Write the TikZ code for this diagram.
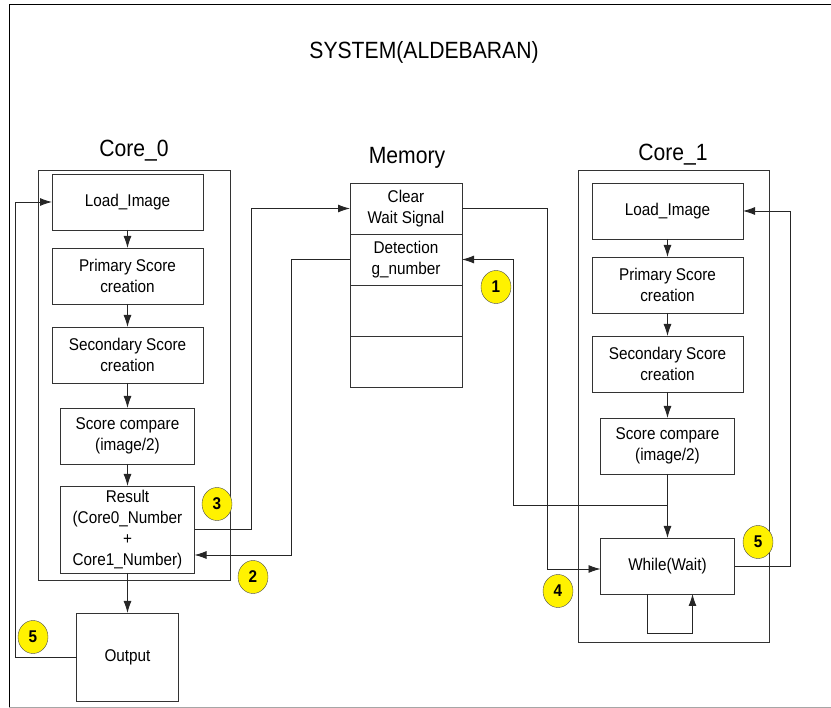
\documentclass[tikz,border=0pt]{standalone}
\usepackage{fontspec}
\setmainfont{Liberation Sans}[FakeStretch=0.9]
\usepackage{tikz}
\usetikzlibrary{shapes.geometric, arrows.meta, positioning, calc}

\begin{document}
\begin{tikzpicture}[
  x=1pt, y=-1pt,
  box/.style={draw=black!80,line width=0.9pt,outer sep=0pt,minimum width=151pt,minimum height=56pt,
              inner sep=2pt,align=center,font=\fontsize{17}{21}\selectfont},
  cmp/.style={box,minimum width=134pt},
  cell/.style={box,minimum width=112pt,minimum height=51pt},
  core/.style={draw=black!80,line width=0.9pt,outer sep=0pt},
  head/.style={font=\fontsize{23.5}{26}\selectfont},
  tag/.style={ellipse,draw=black!70,fill=yellow,minimum width=30pt,minimum height=33pt,
              inner sep=0pt,font=\fontsize{17}{17}\selectfont\bfseries},
  flow/.style={line width=0.9pt,draw=black!85,-{Latex[length=12pt,width=8pt]}},
]
\useasboundingbox (0,0) rectangle (831,708);

% frame and title
\draw[line width=1pt] (9,707) -- (9,5) -- (831,5);
\draw[black!35,line width=1pt] (9,707) -- (831,707);
\node[head] (title) at (424,52) {SYSTEM(ALDEBARAN)};

% Core_0
\node[core,minimum width=192pt,minimum height=410pt] (core0) at (134,375) {};
\node[head] (core0lab) at (134,151) {Core\_0};
\node[box] (ld0) at (127.5,202) {Load\_Image};
\node[box, below=18pt of ld0] (ps0) {Primary Score\\creation};
\node[box, below=23pt of ps0] (sd0) {Secondary Score\\creation};
\node[cmp, below=25pt of sd0] (sc0) {Score compare\\(image/2)};
\node[cmp, below=22pt of sc0, minimum height=87pt] (rs0) {Result\\(Core0\_Number\\+\\Core1\_Number)};
\node[box, below=40pt of rs0, minimum width=102pt, minimum height=88pt] (out0) {Output};

% Memory
\node[head] (memlab) at (407,158) {Memory};
\node[cell] (clr) at (406,208.5) {Clear\\Wait Signal};
\node[cell, below=0pt of clr] (det) {Detection\\g\_number};
\node[cell, below=0pt of det] (m3) {};
\node[cell, below=0pt of m3]  (m4) {};

% Core_1
\node[core,minimum width=191pt,minimum height=472pt] (core1) at (673.5,406) {};
\node[head] (core1lab) at (673,155) {Core\_1};
\node[box] (ld1) at (667.5,211) {Load\_Image};
\node[box, below=18pt of ld1] (ps1) {Primary Score\\creation};
\node[box, below=23pt of ps1] (sd1) {Secondary Score\\creation};
\node[cmp, below=26pt of sd1] (sc1) {Score compare\\(image/2)};
\node[cmp, below=64pt of sc1] (wt) {While(Wait)};

% Edges
\draw[flow] (ld0) -- (ps0);
\draw[flow] (ps0) -- (sd0);
\draw[flow] (sd0) -- (sc0);
\draw[flow] (sc0) -- (rs0);
\draw[flow] (rs0) -- (out0);
\draw[flow] (out0.west) -- ++(-61,0) |- (ld0.west);
\draw[flow] (rs0.east) -- ++(57,0) |- (clr.west);
\draw[flow] (det.west) -- ++(-59,0) |- ([yshift=-25.5pt]rs0.east);

\draw[flow] (ld1) -- (ps1);
\draw[flow] (ps1) -- (sd1);
\draw[flow] (sd1) -- (sc1);
\draw[flow] (sc1) -- (wt);
\coordinate (jn) at ($(sc1.south)+(0,31)$);
\draw[flow] (jn) -- ++(-154,0) |- (det.east);
\draw[flow] (clr.east) -- ++(85,0) |- ([yshift=-3pt]wt.west);
\draw[flow] ([xshift=-20pt]wt.south) -- ++(0,39) -| ([xshift=25pt]wt.south);
\draw[flow] (wt.east) -- ++(56,0) |- (ld1.east);

% step numbers
\node[tag] (t1) at (496,287) {1};
\node[tag] (t2) at (253,577) {2};
\node[tag] (t3) at (217,504) {3};
\node[tag] (t4) at (558,591) {4};
\node[tag] (t5a) at (33,637) {5};
\node[tag] (t5b) at (758,542) {5};

\end{tikzpicture}
\end{document}
